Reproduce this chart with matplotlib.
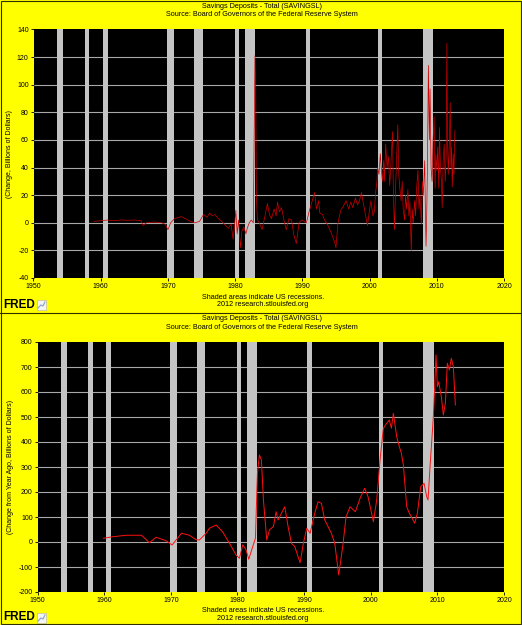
import matplotlib
matplotlib.use("Agg")
import matplotlib.pyplot as plt
from matplotlib.patches import Rectangle
from matplotlib.lines import Line2D

plt.rcParams['font.family'] = ['Liberation Sans', 'DejaVu Sans']
plt.rcParams['axes.unicode_minus'] = False

# recessions (start, end) in decimal years
recessions = [(1953.5, 1954.4), (1957.6, 1958.3), (1960.3, 1961.1), (1969.9, 1970.9),
              (1973.9, 1975.2), (1980.0, 1980.5), (1981.5, 1982.9), (1990.5, 1991.2),
              (2001.2, 2001.9), (2007.9, 2009.5)]

# monthly change, billions of dollars
chg_year = [1959.0, 1960.0, 1961.0, 1962.0, 1963.0, 1964.0, 1965.0, 1966.0, 1966.3, 1966.8,
            1968.0, 1969.0, 1969.6, 1970.0, 1970.4, 1971.0, 1972.0, 1972.6, 1973.3, 1974.0,
            1974.7, 1975.3, 1975.8, 1976.2, 1976.6, 1977.0, 1977.5, 1978.0, 1978.6, 1979.0,
            1979.4, 1979.7, 1979.9, 1980.1, 1980.3, 1980.5, 1980.8, 1981.0, 1981.3, 1981.6,
            1981.8, 1982.1, 1982.4, 1982.7, 1982.95, 1983.05, 1983.15, 1983.3, 1983.6, 1984.0,
            1984.4, 1984.8, 1985.1, 1985.4, 1985.8, 1986.1, 1986.3, 1986.6, 1986.9, 1987.3,
            1987.6, 1988.0, 1988.4, 1988.7, 1989.1, 1989.5, 1989.9, 1990.3, 1990.6, 1991.0,
            1991.3, 1991.6, 1991.8, 1992.1, 1992.4, 1992.6, 1993.0, 1993.3, 1993.7, 1994.1,
            1994.5, 1994.8, 1995.0, 1995.3, 1995.7, 1996.1, 1996.5, 1996.9, 1997.2, 1997.5,
            1997.9, 1998.2, 1998.5, 1998.8, 1999.0, 1999.3, 1999.7, 2000.0, 2000.2, 2000.5,
            2000.7, 2000.9, 2001.1, 2001.2, 2001.4, 2001.6, 2001.7, 2001.9, 2002.1, 2002.2,
            2002.4, 2002.6, 2002.8, 2003.0, 2003.2, 2003.4, 2003.55, 2003.7, 2003.9, 2004.05,
            2004.2, 2004.35, 2004.5, 2004.7, 2004.85, 2005.0, 2005.2, 2005.35, 2005.5, 2005.7,
            2005.85, 2006.0, 2006.2, 2006.35, 2006.5, 2006.7, 2006.85, 2007.0, 2007.2, 2007.35,
            2007.5, 2007.7, 2007.85, 2008.0, 2008.2, 2008.3, 2008.4, 2008.5, 2008.6, 2008.75,
            2008.9, 2009.0, 2009.15, 2009.3, 2009.45, 2009.6, 2009.75, 2009.85, 2010.0, 2010.15,
            2010.3, 2010.4, 2010.55, 2010.7, 2010.8, 2010.95, 2011.1, 2011.25, 2011.4, 2011.5,
            2011.6, 2011.7, 2011.85, 2012.0, 2012.1, 2012.2, 2012.3, 2012.45, 2012.55, 2012.7]
chg_val = [1, 1.5, 2, 1.5, 2, 1.8, 2, 1.5, -2, 0,
           0.5, 0, -1, -5, 0, 3, 4.5, 3, 1, 0,
           1, 6, 4, 7, 5, 6, 3, 1, -2, -4,
           -1, -12, -3, 9, -8, 2, -18, -6, -3, -8,
           -4, 0, 2, 0, 121, 100, 22, 2, 0, -5,
           4, 14, 6, 3, 10, 5, 15, 8, 11, 1,
           -5, 3, 2, -8, -15, 0, 2, 1, 0, 8,
           13, 18, 22, 10, 16, 7, 6, 2, -1, -5,
           -10, -14, -18, 0, 9, 12, 16, 10, 15, 11,
           18, 13, 16, 22, 16, 8, -2, 10, 16, 5,
           8, 22, 30, 40, 35, 50, 42, 30, 45, 30,
           57, 40, 48, 27, 45, 66, 20, -5, 30, 50,
           71, 35, 25, 16, 30, 10, 2, 20, 10, 24,
           5, 15, -20, 10, 0, 16, 5, 25, 38, 10,
           20, -1, 30, 20, 45, 10, -17, 5, 38, 114,
           60, 97, 40, 30, 60, 77, 25, 50, 38, 55,
           25, 69, 40, 30, 11, 45, 57, 30, 50, 130,
           60, 35, 55, 87, 40, 55, 26, 50, 35, 67]

# change from year ago, billions of dollars
yoy_year = [1959.9, 1961.3, 1963.3, 1965.6, 1966.8, 1967.8, 1969.3, 1970.2, 1971.6, 1972.8,
            1973.8, 1974.3, 1975.3, 1975.8, 1976.8, 1977.8, 1978.8, 1979.8, 1980.3, 1980.8,
            1981.3, 1981.7, 1982.3, 1982.7, 1983.0, 1983.3, 1983.6, 1983.9, 1984.4, 1984.8,
            1985.4, 1985.8, 1986.1, 1986.6, 1987.1, 1987.6, 1988.1, 1988.6, 1989.4, 1989.9,
            1990.4, 1990.9, 1991.6, 1992.1, 1992.6, 1993.1, 1994.1, 1994.6, 1995.2, 1995.8,
            1996.3, 1996.9, 1997.7, 1998.4, 1999.1, 1999.6, 2000.4, 2000.9, 2001.4, 2001.9,
            2002.4, 2002.8, 2003.1, 2003.4, 2003.9, 2004.3, 2004.6, 2004.9, 2005.4, 2005.8,
            2006.1, 2006.6, 2007.0, 2007.5, 2008.0, 2008.4, 2008.6, 2008.9, 2009.1, 2009.4,
            2009.6, 2009.8, 2010.0, 2010.2, 2010.6, 2010.9, 2011.2, 2011.5, 2011.8, 2012.1,
            2012.4, 2012.7]
yoy_val = [15, 21, 27, 27, -3, 19, 5, -12, 35, 27,
           9, 8, 35, 55, 68, 40, -5, -52, -65, -11,
           -32, -69, -18, 15, 275, 348, 328, 168, 8, 48,
           62, 121, 88, 115, 141, 62, -5, -18, -83, -5,
           55, 35, 115, 161, 155, 88, 35, -5, -132, -18,
           101, 141, 121, 175, 215, 181, 81, 168, 328, 455,
           475, 488, 455, 515, 421, 381, 355, 308, 141, 115,
           101, 75, 115, 221, 235, 181, 168, 301, 381, 501,
           621, 748, 621, 641, 581, 508, 555, 715, 688, 735,
           701, 548]

W, H = 522, 625
fig = plt.figure(figsize=(W / 100, H / 100), dpi=100, facecolor='#ffff00')


def px_axes(x0, y0, x1, y1):
    return fig.add_axes([x0 / W, 1 - y1 / H, (x1 - x0) / W, (y1 - y0) / H])


def ftext(x, y, s, **kw):
    fig.text(x / W, 1 - y / H, s, **kw)


def panel(ax, xs, ys, ylo, yhi, ystep, ylabel, lw, color):
    ax.set_facecolor('black')
    for a, b in recessions:
        ax.axvspan(a, b, color='#c4c4c4', lw=0, zorder=1)
    yt = list(range(ylo, yhi + 1, ystep))
    for v in yt[1:-1]:
        ax.axhline(v, color='#a8a8a8', lw=0.8, zorder=0.5)
    ax.plot(xs, ys, color=color, lw=lw, zorder=3)
    ax.set_xlim(1950, 2020)
    ax.set_ylim(ylo, yhi)
    ax.set_xticks(range(1950, 2021, 10))
    ax.set_yticks(yt)
    ax.tick_params(labelsize=5, length=2, width=0.6, pad=1.5, color='black')
    for s in ax.spines.values():
        s.set_visible(False)
    ax.set_ylabel(ylabel, fontsize=5, labelpad=3)


def header_footer(off):
    ftext(262, 6 + off, 'Savings Deposits - Total (SAVINGSL)', fontsize=5.2, ha='center', va='center')
    ftext(262, 14.5 + off, 'Source: Board of Governors of the Federal Reserve System',
          fontsize=5.2, ha='center', va='center')
    ftext(263, 297 + off, 'Shaded areas indicate US recessions.', fontsize=5.2, ha='center', va='center')
    ftext(263, 305 + off, '2012 research.stlouisfed.org', fontsize=5.2, ha='center', va='center')
    ftext(3, 304.5 + off, 'FRED', fontsize=8.5, fontweight='bold', ha='left', va='center')
    fig.patches.append(Rectangle((36.5 / W, 1 - (309.5 + off) / H), 9.5 / W, 9.5 / H,
                                 transform=fig.transFigure, facecolor='#f4f4f4',
                                 edgecolor='#b0b0b0', lw=0.4))
    fig.lines.append(Line2D([38 / W, 41 / W, 43 / W, 45 / W],
                            [1 - (308 + off) / H, 1 - (305 + off) / H, 1 - (306 + off) / H,
                             1 - (302 + off) / H],
                            transform=fig.transFigure, color='#8aa0c8', lw=0.8))


ax1 = px_axes(33.5, 29.5, 504, 278)
panel(ax1, chg_year, chg_val, -40, 140, 20, '(Change, Billions of Dollars)', 0.5, '#d00000')
ax2 = px_axes(37.5, 342, 504, 592)
panel(ax2, yoy_year, yoy_val, -200, 800, 100, '(Change from Year Ago, Billions of Dollars)', 0.7, '#ff1010')

header_footer(0)
header_footer(313)

# divider and border
fig.lines.append(Line2D([0, 1], [1 - 312.5 / H, 1 - 312.5 / H], transform=fig.transFigure,
                        color='#303000', lw=0.8))
fig.patches.append(Rectangle((0.001, 0.001), 0.998, 0.998, transform=fig.transFigure,
                             fill=False, edgecolor='#303000', lw=0.8))

fig.savefig('out.png', dpi=100, facecolor=fig.get_facecolor())
